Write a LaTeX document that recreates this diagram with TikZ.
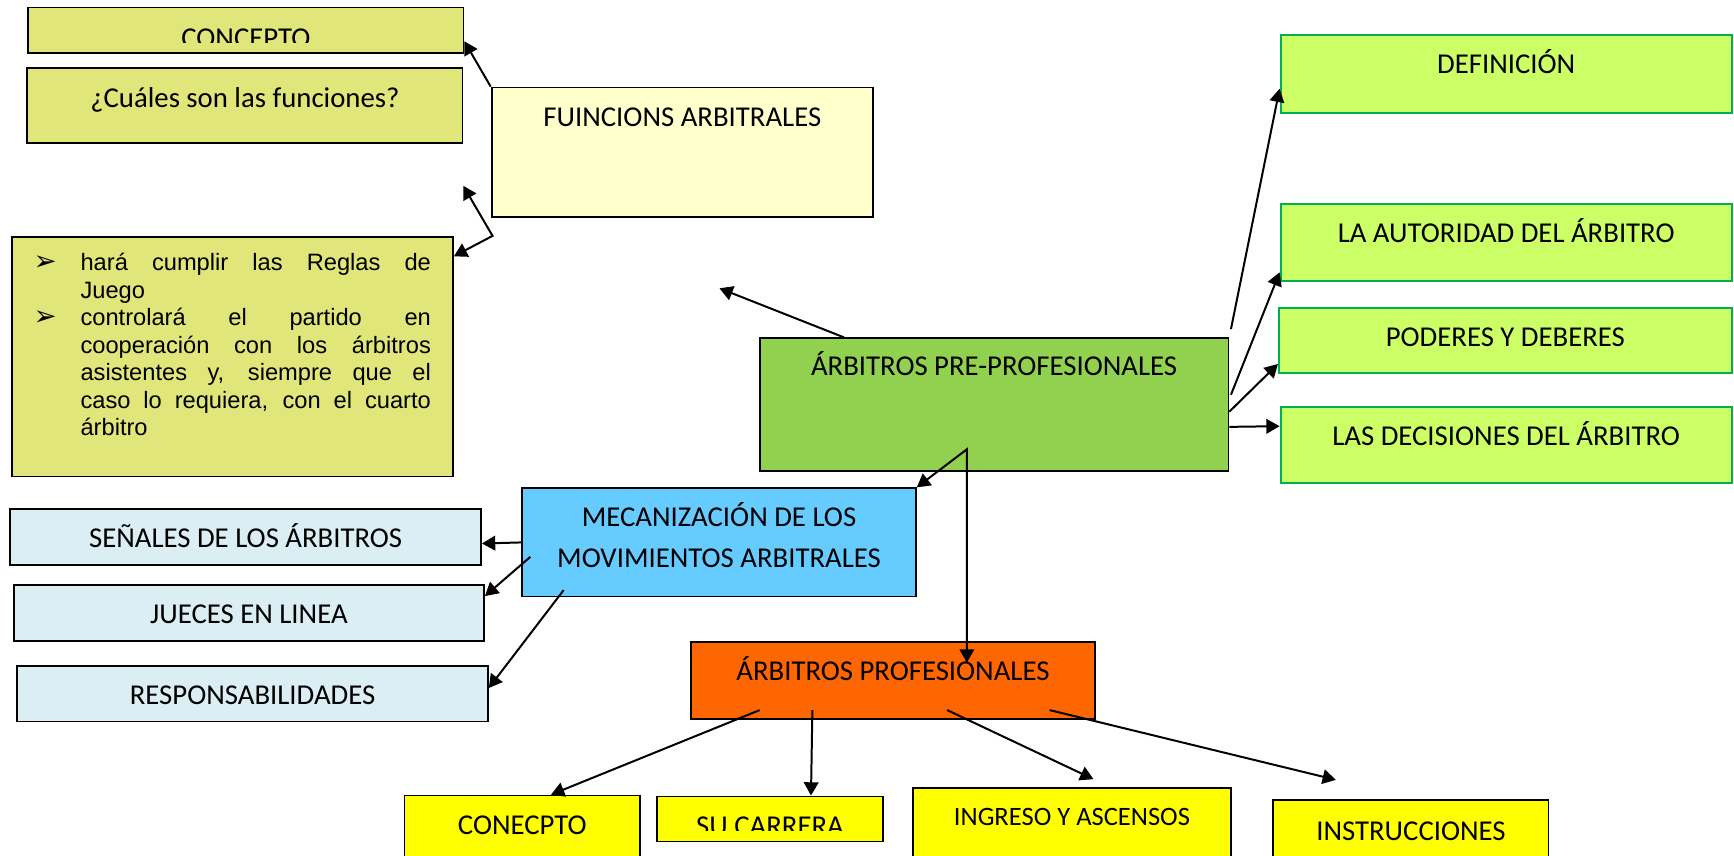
\documentclass[tikz,border=0pt]{standalone}
\usepackage{fontspec}
\setmainfont{Carlito}
\newfontfamily\arialfont{Liberation Sans}
\newfontfamily\symbfont{DejaVu Sans}
\usetikzlibrary{arrows.meta,calc}

\definecolor{olivebg}{HTML}{E0E67A}
\definecolor{paleyellow}{HTML}{FFFFCC}
\definecolor{preprofill}{HTML}{92D050}
\definecolor{limefill}{HTML}{CCFF66}
\definecolor{limeline}{HTML}{00B050}
\definecolor{mecblue}{HTML}{66CCFF}
\definecolor{paleblue}{HTML}{DAEEF3}
\definecolor{orangefill}{HTML}{FF6600}
\definecolor{yellowfill}{HTML}{FFFF00}

\tolerance=10000
\hbadness=10000
\hyphenpenalty=10000
\newcommand{\bulletmark}{{\symbfont\fontsize{12.5}{12.5}\selectfont ➢}}
\newcommand{\bulletlabel}[1]{#1\hfil}
\newenvironment{reglaslist}
  {\begin{list}{\bulletmark}{%
     \setlength{\leftmargin}{21.2pt}\setlength{\labelwidth}{21.2pt}%
     \setlength{\labelsep}{0pt}\setlength{\itemsep}{0pt}%
     \setlength{\topsep}{0pt}\setlength{\parsep}{0pt}%
     \setlength{\partopsep}{0pt}\let\makelabel\bulletlabel}}
  {\end{list}}

\begin{document}
\begin{tikzpicture}[x=0.5pt,y=-0.5pt,
    box/.style={draw, line width=0.8pt, inner sep=0pt, anchor=base,
        font=\fontsize{13}{15.6}\selectfont},
    greenbox/.style={box, draw=limeline, fill=limefill, line width=0.9pt},
    cliptext/.style={draw=none, fill=none, inner sep=0pt, anchor=base,
        font=\fontsize{13}{15.6}\selectfont},
    arrow/.style={-{Triangle[length=6pt,width=6.6pt]}, line width=0.9pt},
    arrowboth/.style={{Triangle[length=6pt,width=6.6pt]}-{Triangle[length=6pt,width=6.6pt]}, line width=0.9pt}]

\clip (0,0) rectangle (1568,774);
\fill[white] (0,0) rectangle (1568,774);

% Left column blocks
\node[box, fill=olivebg,
    anchor=north west,
    minimum width=196.8pt, minimum height=20.65pt,
    path picture={
      \clip (path picture bounding box.north west)
        rectangle ([yshift=4.8pt]path picture bounding box.south east);
      \node[cliptext] at ([yshift=2.7pt]path picture bounding box.south) {CONCEPTO};
    }] (concepto) at (24.7,6) {};

\node[box, fill=olivebg,
    minimum width=196.8pt,
    text height=17.6pt, text depth=16.3pt
] (cuales) at (221.5,97) {¿Cuáles son las funciones?};

% the list starts one line below the node's base line
\node[box, fill=olivebg,
    text width=179.6pt, inner xsep=9.97pt,
    align=justify,
    text height=2.85pt, text depth=105.3pt,
    font=\arialfont\fontsize{10.7}{12.4}\selectfont
] (reglas) at (210.05,220.2)
    {\begin{reglaslist}
     \item hará cumplir las Reglas de\linebreak Juego
     \item controlará el partido en\linebreak cooperación con los árbitros\linebreak asistentes y, siempre que el\linebreak caso lo requiera, con el cuarto\linebreak árbitro
     \end{reglaslist}};

% Central blocks
\node[box, fill=paleyellow,
    minimum width=172.45pt,
    text height=17.65pt, text depth=40.95pt
] (funciones) at (617,114.5) {FUINCIONS ARBITRALES};

\node[box, fill=preprofill,
    minimum width=211.9pt,
    text height=17.05pt, text depth=42.8pt
] (prepro) at (898.9,340) {ÁRBITROS PRE-PROFESIONALES};

% Right column blocks
\node[greenbox, minimum width=204pt,
    text height=17.65pt, text depth=17.5pt] (definicion) at (1362,66.9) {DEFINICIÓN};
\node[greenbox, minimum width=204pt,
    text height=17.5pt, text depth=17.3pt] (autoridad) at (1362,219.4) {LA AUTORIDAD DEL ÁRBITRO};
\node[greenbox, minimum width=204.75pt,
    text height=17.35pt, text depth=12pt] (poderes) at (1361.25,313.5) {PODERES Y DEBERES};
\node[greenbox, minimum width=204pt,
    text height=17.35pt, text depth=17pt] (decisiones) at (1362,403) {LAS DECISIONES DEL ÁRBITRO};

% Movements block and its children
\node[box, fill=mecblue,
    text width=178pt, align=flush center,
    text height=17.35pt, text depth=31.65pt,
    font=\fontsize{13}{18.55}\selectfont
] (mecanizacion) at (650.2,476.2) {MECANIZACIÓN DE LOS\\MOVIMIENTOS ARBITRALES};

\node[box, fill=paleblue, minimum width=212.85pt,
    text height=17.35pt, text depth=7.95pt] (senales) at (222.15,495.2) {SEÑALES DE LOS ÁRBITROS};
\node[box, fill=paleblue, minimum width=212.6pt,
    text height=17.65pt, text depth=7.7pt] (jueces) at (225.1,564.2) {JUECES EN LINEA};
\node[box, fill=paleblue, minimum width=212.8pt,
    text height=17.6pt, text depth=7.55pt] (responsab) at (228.4,637.4) {RESPONSABILIDADES};

% Professional block and its children
\node[box, fill=orangefill,
    minimum width=182.65pt,
    text height=17.3pt, text depth=17.35pt
] (profesionales) at (807.45,615.4) {ÁRBITROS PROFESIONALES};

\node[box, fill=yellowfill, minimum width=106.55pt,
    text height=17.8pt, text depth=17.5pt] (conecpto) at (472.25,755) {CONECPTO};
\node[box, fill=yellowfill,
    anchor=north west,
    minimum width=102.1pt, minimum height=20.35pt,
    path picture={
      \clip (path picture bounding box.north west)
        rectangle ([yshift=4.8pt]path picture bounding box.south east);
      \node[cliptext] at ([yshift=2.55pt]path picture bounding box.south) {SU CARRERA};
    }] (carrera) at (593.4,719.4) {};
\node[box, fill=yellowfill, minimum width=143.45pt,
    text height=17pt, text depth=21.6pt,
    font=\fontsize{12}{14.4}\selectfont] (ingreso) at (969.35,746.8) {INGRESO Y ASCENSOS};
\node[box, fill=yellowfill, minimum width=124.45pt,
    text height=18.4pt, text depth=15pt] (instrucciones) at (1275.85,760.1) {INSTRUCCIONES};

% Free ends
\coordinate (fork) at (445.4,213.3);
\coordinate (emptytip) at (418.9,168);
\coordinate (uptip) at (650.6,260.7);
\coordinate (split) at (874.3,406.3);
\coordinate (drop) at (874.3,599.2);
\coordinate (ingresotip) at (988.8,704.6);
\coordinate (instrtip) at (1208,705.2);

% Arrows
\draw[arrow] (funciones.north west) -- ($(concepto.north east)!0.73!(concepto.south east)$);
\draw[arrowboth] (emptytip) -- (fork) -- ($(reglas.north east)!0.083!(reglas.south east)$);
\draw[arrow] ($(prepro.north west)!0.181!(prepro.north east)$) -- (uptip);

\draw[arrow] ($(prepro.north east)+(1.5,-7.5)$)
    -- ($(definicion.north west)!0.687!(definicion.south west)$);
\draw[arrow] ($(prepro.north east)!0.428!(prepro.south east)+(1.5,0)$)
    -- ($(autoridad.north west)!0.879!(autoridad.south west)$);
\draw[arrow] ($(prepro.north east)!0.554!(prepro.south east)$)
    -- ($(poderes.north west)!0.847!(poderes.south west)$);
\draw[arrow] ($(prepro.north east)!0.667!(prepro.south east)$)
    -- ($(decisiones.north west)!0.255!(decisiones.south west)$);

\draw[arrowboth] (mecanizacion.north east) -- (split) -- (drop);

\draw[arrow] (mecanizacion.west) -- ($(senales.north east)!0.609!(senales.south east)$);
\draw[arrow] ($(mecanizacion.west)+(8.1,13.1)$) -- ($(jueces.north east)!0.209!(jueces.south east)$);
\draw[arrow] ($(mecanizacion.south west)+(38.3,-6.7)$) -- ($(responsab.north east)!0.4!(responsab.south east)$);

\draw[arrow] ($(profesionales.south west)+(63,-8.8)$) -- ($(conecpto.north west)!0.621!(conecpto.north east)$);
\draw[arrow] ($(profesionales.south west)+(110.6,-8.8)$) -- ($(carrera.north west)!0.68!(carrera.north east)$);
\draw[arrow] ($(profesionales.south west)+(232.5,-8.8)$) -- (ingresotip);
\draw[arrow] ($(profesionales.south west)+(325.1,-8.8)$) -- (instrtip);

\end{tikzpicture}
\end{document}
